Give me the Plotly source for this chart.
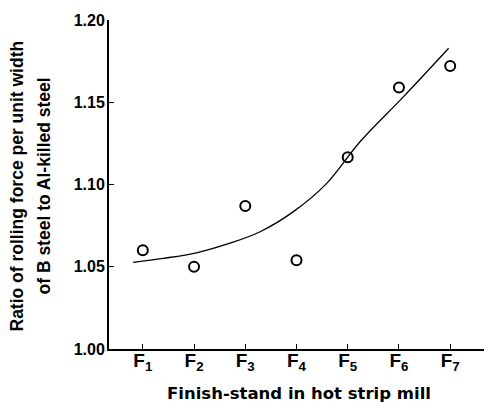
import plotly.graph_objects as go

stands = [1, 2, 3, 4, 5, 6, 7]
tick_labels = ["F<sub>1</sub>", "F<sub>2</sub>", "F<sub>3</sub>", "F<sub>4</sub>",
               "F<sub>5</sub>", "F<sub>6</sub>", "F<sub>7</sub>"]
ratio = [1.060, 1.050, 1.087, 1.054, 1.1165, 1.159, 1.172]

curve_x = [0.81, 1.40, 2.05, 2.70, 3.29, 3.94, 4.59, 5.24, 6.09, 6.97]
curve_y = [1.0527, 1.0551, 1.0585, 1.0643, 1.0713, 1.0835, 1.1007, 1.1260, 1.1534, 1.1828]

y_ticks = [1.00, 1.05, 1.10, 1.15, 1.20]
y_tick_labels = ["1.00", "1.05", "1.10", "1.15", "1.20"]

x_title = "Finish-stand in hot strip mill"
y_title_1 = "Ratio of rolling force per unit width"
y_title_2 = "of B steel to Al-killed steel"

fig = go.Figure()
fig.add_trace(go.Scatter(x=curve_x, y=curve_y, mode="lines",
                         line=dict(color="black", width=1.3, shape="spline", smoothing=1.0),
                         hoverinfo="skip"))
fig.add_trace(go.Scatter(x=stands, y=ratio, mode="markers",
                         marker=dict(symbol="circle-open", size=10, color="black",
                                     line=dict(width=2, color="black"))))

font_main = "Liberation Sans, Arial, sans-serif"
fig.update_layout(
    width=484, height=403,
    margin=dict(l=109, r=0, t=20, b=54),
    paper_bgcolor="white", plot_bgcolor="white",
    showlegend=False,
    font=dict(family=font_main, color="black"),
    xaxis=dict(range=[0.34, 7.66], tickmode="array", tickvals=stands, ticktext=tick_labels,
               automargin=False,
               showgrid=False, zeroline=False, showline=True, linecolor="black", linewidth=2,
               ticks="inside", ticklen=5, tickwidth=1, tickcolor="black",
               ticklabelstandoff=-7,
               tickfont=dict(size=19, family=font_main, weight="bold")),
    yaxis=dict(range=[1.0, 1.2], tickmode="array", tickvals=y_ticks, ticktext=y_tick_labels,
               automargin=False,
               showgrid=False, zeroline=False, showline=True, linecolor="black", linewidth=2,
               ticks="inside", ticklen=5, tickwidth=1, tickcolor="black",
               ticklabelstandoff=-1,
               tickfont=dict(size=16, family=font_main, weight="bold")),
)

fig.add_annotation(text=x_title, xref="paper", yref="paper", x=0.5, y=0,
                   xanchor="center", yanchor="middle", yshift=-44, xshift=2, showarrow=False,
                   font=dict(size=16.5, family="DejaVu Sans, sans-serif", weight="bold"))
fig.add_annotation(text=y_title_1, xref="paper", yref="paper", x=0, y=0.5,
                   xanchor="center", yanchor="middle", xshift=-93, yshift=-2,
                   textangle=-90, showarrow=False,
                   font=dict(size=17.5, family=font_main, weight="bold"))
fig.add_annotation(text=y_title_2, xref="paper", yref="paper", x=0, y=0.5,
                   xanchor="center", yanchor="middle", xshift=-66, yshift=-2,
                   textangle=-90, showarrow=False,
                   font=dict(size=17.5, family=font_main, weight="bold"))

fig.write_html("out.html",
               config={"displayModeBar": False},
               post_script="document.body.style.margin='0';document.body.style.padding='0';")
